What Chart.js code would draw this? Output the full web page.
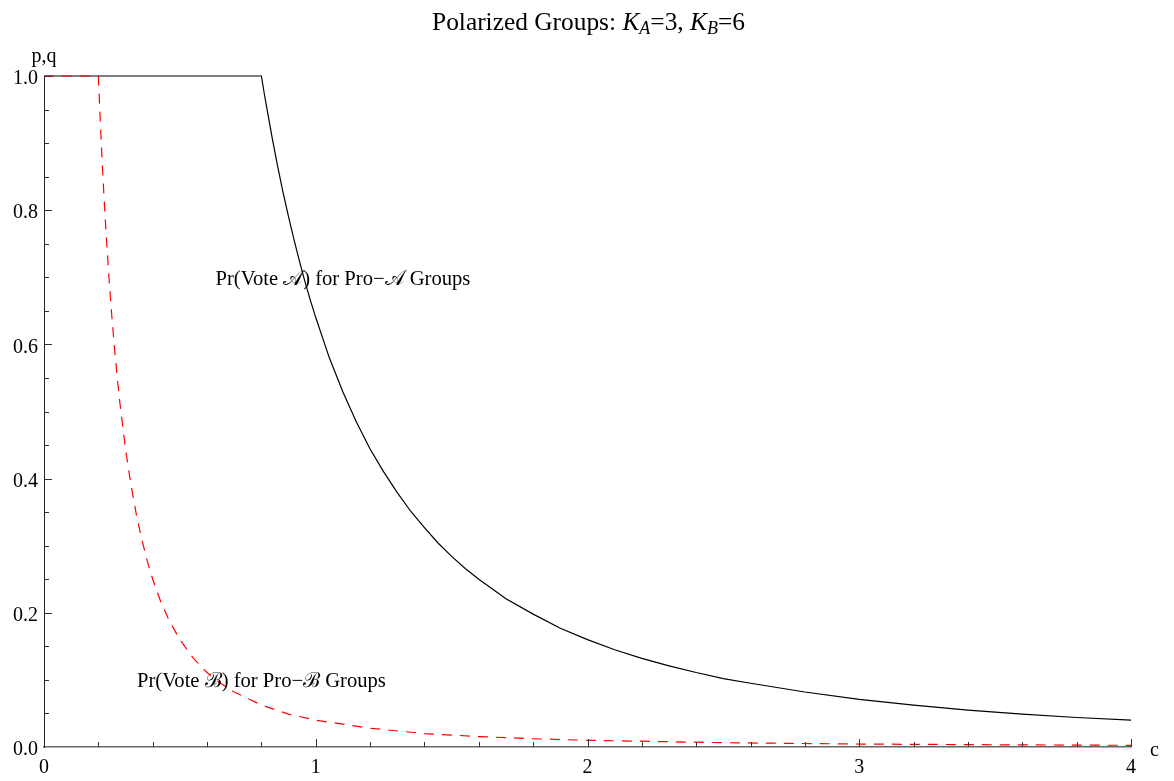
<!DOCTYPE html>
<html>
<head>
<meta charset="utf-8">
<script src="https://cdn.jsdelivr.net/npm/chart.js@4"></script>
<style>
  html, body { margin: 0; padding: 0; background: #fff; }
  #wrap { width: 1174px; height: 781px; }
</style>
</head>
<body>
<div id="wrap"><canvas id="c" width="1174" height="781"></canvas></div>
<script>
// Pr(Vote A) for Pro-A groups (solid black)
const cA = [0, 0.8, 0.81, 0.82, 0.84, 0.86, 0.88, 0.9, 0.92, 0.94, 0.96, 0.98, 1.0, 1.05, 1.1, 1.15, 1.2, 1.25, 1.3, 1.35, 1.4, 1.45, 1.5, 1.55, 1.6, 1.7, 1.8, 1.9, 2.0, 2.1, 2.2, 2.3, 2.4, 2.5, 2.6, 2.8, 3.0, 3.2, 3.4, 3.6, 3.8, 4.0];
const pA = [1, 1, 0.975, 0.952, 0.907, 0.865, 0.826, 0.790, 0.756, 0.724, 0.694, 0.666, 0.640, 0.580, 0.529, 0.484, 0.444, 0.410, 0.379, 0.351, 0.327, 0.304, 0.284, 0.266, 0.250, 0.221, 0.198, 0.177, 0.160, 0.145, 0.132, 0.121, 0.111, 0.102, 0.095, 0.082, 0.071, 0.0625, 0.055, 0.049, 0.044, 0.040];

// Pr(Vote B) for Pro-B groups (dashed red)
const cB = [0, 0.2, 0.205, 0.21, 0.215, 0.22, 0.225, 0.23, 0.24, 0.25, 0.26, 0.27, 0.28, 0.3, 0.32, 0.34, 0.36, 0.38, 0.4, 0.43, 0.46, 0.5, 0.55, 0.6, 0.65, 0.7, 0.8, 0.9, 1.0, 1.2, 1.4, 1.6, 1.8, 2.0, 2.5, 3.0, 3.5, 4.0];
const qB = [1, 1, 0.952, 0.907, 0.865, 0.826, 0.790, 0.756, 0.694, 0.640, 0.592, 0.549, 0.510, 0.444, 0.391, 0.346, 0.309, 0.277, 0.250, 0.216, 0.189, 0.160, 0.132, 0.111, 0.095, 0.082, 0.0625, 0.049, 0.040, 0.028, 0.020, 0.0156, 0.0123, 0.010, 0.0064, 0.0044, 0.0033, 0.0025];

// Axis ticks
const xMajor = [0, 1, 2, 3, 4];
const xMinor = [0.2, 0.4, 0.6, 0.8, 1.2, 1.4, 1.6, 1.8, 2.2, 2.4, 2.6, 2.8, 3.2, 3.4, 3.6, 3.8];
const yMajor = [0, 0.2, 0.4, 0.6, 0.8, 1.0];
const yMinor = [0.05, 0.1, 0.15, 0.25, 0.3, 0.35, 0.45, 0.5, 0.55, 0.65, 0.7, 0.75, 0.85, 0.9, 0.95];

// Text
const labelA = 'Pr(Vote \u{1D49C}) for Pro\u2212\u{1D49C} Groups';
const labelB = 'Pr(Vote \u212C) for Pro\u2212\u212C Groups';
const labelAPos = [1.1, 0.7];
const labelBPos = [0.8, 0.1];

const SERIF = '"Liberation Serif", "Times New Roman", "DejaVu Serif", serif';

const toPts = (xs, ys) => xs.map((x, i) => ({ x: x, y: ys[i] }));

// Inward tick marks, axis names, title and curve labels
const decorations = {
  id: 'decorations',
  afterDraw(chart) {
    const ctx = chart.ctx;
    const xs = chart.scales.x, ys = chart.scales.y;
    const x0 = xs.getPixelForValue(0), y0 = ys.getPixelForValue(0);
    ctx.save();
    ctx.strokeStyle = '#333';
    ctx.lineWidth = 1;
    const xt = (v, len) => {
      const px = Math.round(xs.getPixelForValue(v)) + 0.5;
      ctx.beginPath(); ctx.moveTo(px, y0); ctx.lineTo(px, y0 - len); ctx.stroke();
    };
    const yt = (v, len) => {
      const py = Math.round(ys.getPixelForValue(v)) + 0.5;
      ctx.beginPath(); ctx.moveTo(x0, py); ctx.lineTo(x0 + len, py); ctx.stroke();
    };
    xMajor.forEach(v => { if (v > 0) xt(v, 8); });
    xMinor.forEach(v => xt(v, 5));
    yMajor.forEach(v => { if (v > 0) yt(v, 8); });
    yMinor.forEach(v => yt(v, 5));

    ctx.fillStyle = '#000';
    ctx.font = '20px ' + SERIF;
    // axis names
    ctx.textAlign = 'center';
    ctx.textBaseline = 'alphabetic';
    ctx.fillText('p,q', x0, 62);
    ctx.textAlign = 'left';
    ctx.fillText('c', xs.getPixelForValue(4) + 19, y0 + 9);

    // curve labels
    ctx.font = '20.6px ' + SERIF;
    ctx.textAlign = 'center';
    ctx.textBaseline = 'middle';
    ctx.fillText(labelA, xs.getPixelForValue(labelAPos[0]), ys.getPixelForValue(labelAPos[1]) + 2);
    ctx.fillText(labelB, xs.getPixelForValue(labelBPos[0]), ys.getPixelForValue(labelBPos[1]) + 2);

    // title with italic subscripted K_A, K_B
    const big = 25.4, small = 18;
    const parts = [
      { t: 'Polarized Groups: ', f: big + 'px ' + SERIF, dy: 0 },
      { t: 'K', f: 'italic ' + big + 'px ' + SERIF, dy: 0 },
      { t: 'A', f: 'italic ' + small + 'px ' + SERIF, dy: 4 },
      { t: '=3, ', f: big + 'px ' + SERIF, dy: 0 },
      { t: 'K', f: 'italic ' + big + 'px ' + SERIF, dy: 0 },
      { t: 'B', f: 'italic ' + small + 'px ' + SERIF, dy: 4 },
      { t: '=6', f: big + 'px ' + SERIF, dy: 0 }
    ];
    let total = 0;
    parts.forEach(p => { ctx.font = p.f; p.w = ctx.measureText(p.t).width; total += p.w; });
    let x = 588.5 - total / 2;
    ctx.textAlign = 'left';
    ctx.textBaseline = 'alphabetic';
    parts.forEach(p => { ctx.font = p.f; ctx.fillText(p.t, x, 30 + p.dy); x += p.w; });
    ctx.restore();
  }
};

new Chart(document.getElementById('c'), {
  type: 'scatter',
  data: {
    datasets: [
      {
        label: 'Pr(Vote B) for Pro-B Groups',
        data: toPts(cB, qB),
        showLine: true,
        borderColor: '#ff0000',
        borderWidth: 1.2,
        borderDash: [10, 8],
        pointRadius: 0,
        fill: false,
        clip: 4,
        tension: 0
      },
      {
        label: 'Pr(Vote A) for Pro-A Groups',
        data: toPts(cA, pA),
        showLine: true,
        borderColor: '#000000',
        borderWidth: 1.2,
        pointRadius: 0,
        fill: false,
        clip: 4,
        tension: 0
      }
    ]
  },
  options: {
    responsive: false,
    animation: false,
    devicePixelRatio: 1,
    layout: { padding: { top: 76, right: 43, bottom: 0, left: 0 } },
    plugins: { legend: { display: false }, tooltip: { enabled: false }, title: { display: false } },
    scales: {
      x: {
        type: 'linear',
        min: 0, max: 4,
        afterFit(s) { s.height = 34; },
        afterBuildTicks(s) { s.ticks = xMajor.map(v => ({ value: v })); },
        grid: { display: false, drawTicks: false },
        border: { display: true, color: '#666', width: 1.5 },
        ticks: { color: '#000', padding: 9, font: { family: SERIF, size: 20 }, maxRotation: 0, autoSkip: false,
                 callback: v => String(v) }
      },
      y: {
        type: 'linear',
        min: 0, max: 1,
        afterFit(s) { s.width = 44; },
        afterBuildTicks(s) { s.ticks = yMajor.map(v => ({ value: v })); },
        grid: { display: false, drawTicks: false },
        border: { display: true, color: '#222', width: 1 },
        ticks: { color: '#000', padding: 6, labelOffset: 3, font: { family: SERIF, size: 20 }, autoSkip: false,
                 callback: v => Number(v).toFixed(1) }
      }
    }
  },
  plugins: [decorations]
});
</script>
</body>
</html>
